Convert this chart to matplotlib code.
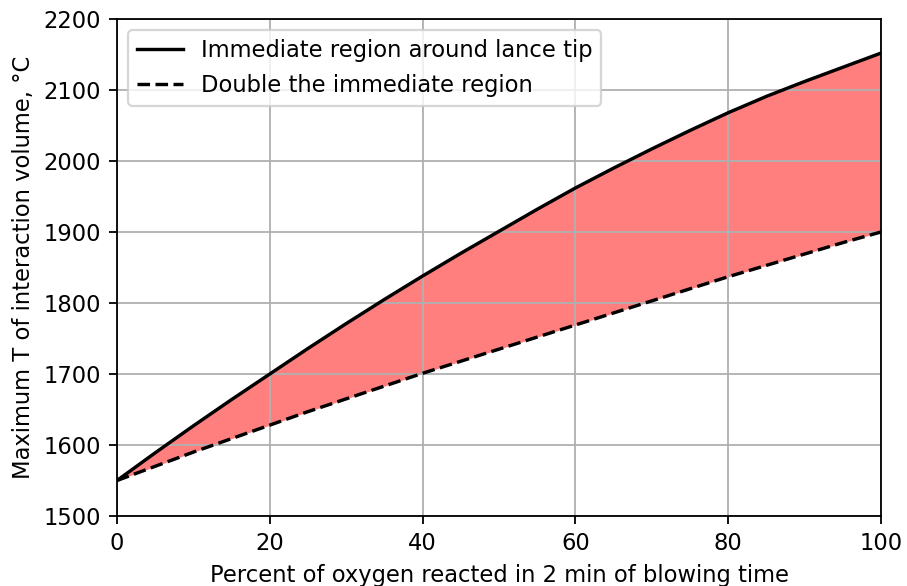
import matplotlib
matplotlib.use("Agg")
import matplotlib.pyplot as plt

x = [0, 5, 10, 15, 20, 25, 30, 35, 40, 45, 50, 55, 60, 65, 70, 75, 80, 85, 90, 95, 100]
t_immediate = [1550, 1589, 1627, 1664, 1700, 1736, 1771, 1805, 1838, 1870, 1901,
               1932, 1962, 1990, 2017, 2043, 2068, 2091, 2112, 2132, 2152]
t_double = [1550, 1570, 1590, 1609, 1628, 1647, 1665, 1683, 1701, 1718, 1735,
            1752, 1769, 1786, 1803, 1820, 1837, 1853, 1869, 1885, 1900]

dpi = 163
fig = plt.figure(figsize=(907 / dpi, 586 / dpi), dpi=dpi)
ax = fig.add_axes([117 / 907, 1 - 516 / 586, (881 - 117) / 907, (516 - 19) / 586])

ax.fill_between(x, t_double, t_immediate, color="red", alpha=0.5, linewidth=0)
ax.plot(x, t_immediate, color="black", linestyle="-", linewidth=1.5,
        label="Immediate region around lance tip")
ax.plot(x, t_double, color="black", linestyle="--", linewidth=1.5,
        label="Double the immediate region")

ax.set_xlim(0, 100)
ax.set_ylim(1500, 2200)
ax.set_xlabel("Percent of oxygen reacted in 2 min of blowing time")
ax.set_ylabel("Maximum T of interaction volume, °C")
ax.grid(True)
ax.legend(loc="upper left")

fig.savefig("out.png", dpi=dpi)
